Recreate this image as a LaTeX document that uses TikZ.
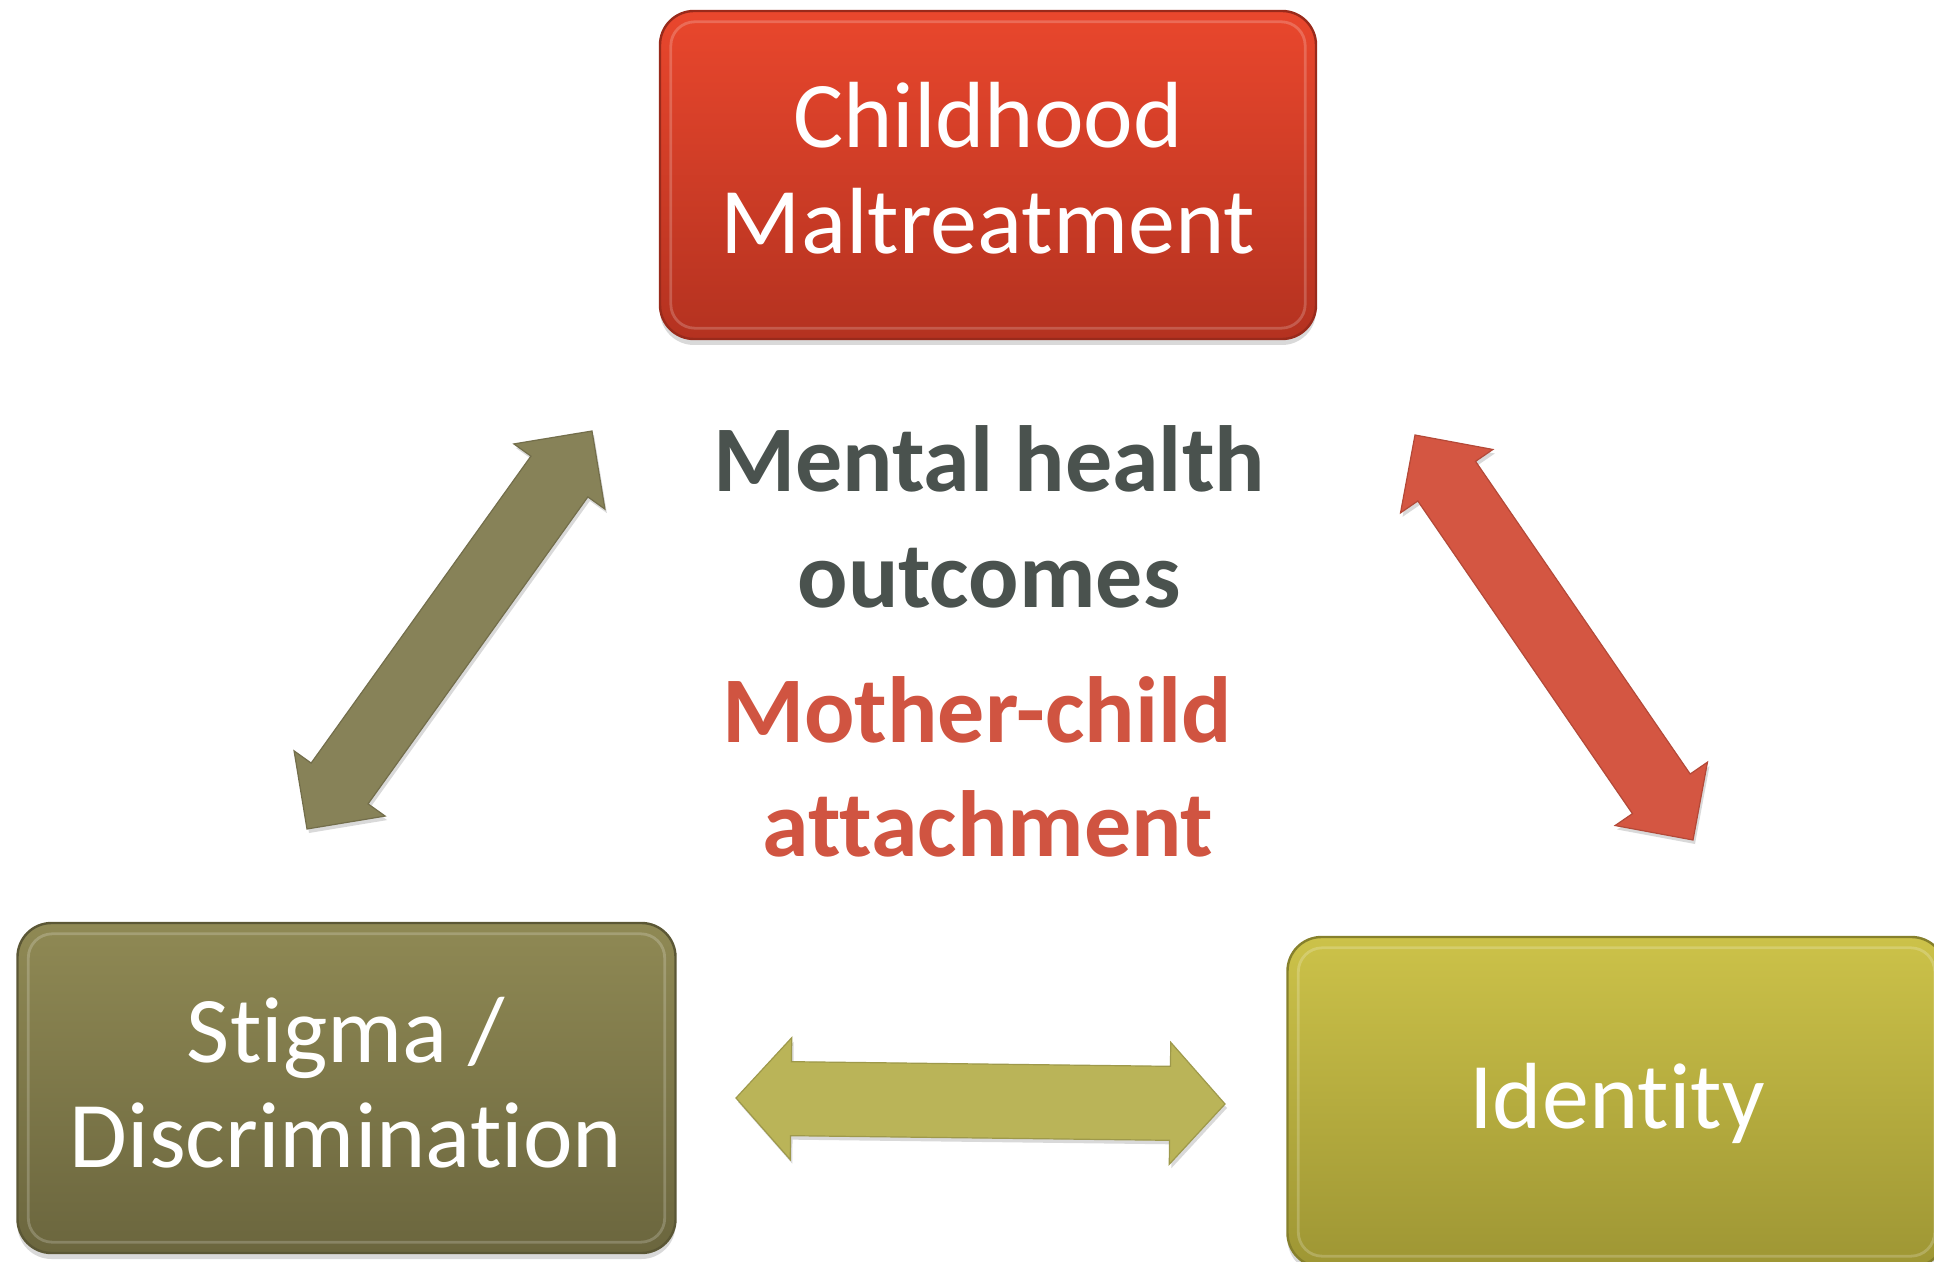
\documentclass[tikz,border=0pt]{standalone}
\usepackage{fontspec}
\setmainfont[Ligatures=NoCommon]{Carlito}
\usetikzlibrary{calc,shadows}

% box fills (top / bottom of the vertical gradient)
\definecolor{cmTop}{RGB}{233,71,45}
\definecolor{cmBot}{RGB}{180,50,32}
\definecolor{sdTop}{RGB}{143,137,84}
\definecolor{sdBot}{RGB}{107,102,62}
\definecolor{idTop}{RGB}{204,194,73}
\definecolor{idBot}{RGB}{158,150,52}
% arrows and centre text
\definecolor{oliveArrow}{RGB}{135,130,88}
\definecolor{redArrow}{RGB}{212,86,66}
\definecolor{yellowArrow}{RGB}{186,180,88}
\definecolor{mhGray}{RGB}{74,82,78}
\definecolor{mcRed}{RGB}{208,84,65}

% double-headed block arrow between two tip coordinates
% #1,#2 tips; #3 head length; #4 head half width; #5 shaft half width; #6 style
\newcommand\dblarrow[6]{%
  \filldraw[#6] (#1)
    -- ($(#1)!#3!(#2)!#4!90:(#2)$)
    -- ($(#1)!#3!(#2)!#5!90:(#2)$)
    -- ($(#2)!#3!(#1)!#5!-90:(#1)$)
    -- ($(#2)!#3!(#1)!#4!-90:(#1)$)
    -- (#2)
    -- ($(#2)!#3!(#1)!#4!90:(#1)$)
    -- ($(#2)!#3!(#1)!#5!90:(#1)$)
    -- ($(#1)!#3!(#2)!#5!-90:(#2)$)
    -- ($(#1)!#3!(#2)!#4!-90:(#2)$)
    -- cycle;}

\begin{document}
\begin{tikzpicture}[x=0.5pt,y=-0.5pt,
  card/.style={rounded corners=17pt, inner sep=0pt, line width=1.2pt,
    minimum width=329pt, minimum height=165pt,
    drop shadow={shadow xshift=0pt, shadow yshift=-3pt, opacity=0.15, fill=black}},
  rim/.style={rounded corners=12pt, line width=1.4pt, draw=white, draw opacity=0.2},
  boxtext/.style={anchor=base, text=white, inner sep=0pt,
    font=\fontsize{47}{56}\selectfont},
  midtext/.style={anchor=base, inner sep=0pt,
    font=\fontsize{47}{56}\selectfont\bfseries},
  arrowfill/.style={fill=#1, draw=#1!85!black, line width=0.6pt, line join=miter,
    drop shadow={shadow xshift=1pt, shadow yshift=-2pt, opacity=0.15, fill=black}},
]
\useasboundingbox (0,0) rectangle (1934,1262);
\clip (0,0) rectangle (1934,1262);
\fill[white] (0,0) rectangle (1934,1262);

% ---- boxes ----
\node[card, top color=cmTop, bottom color=cmBot, draw=cmBot!85!black,
      minimum width=328pt, minimum height=164pt] (cm) at (988,175) {};
\node[card, top color=sdTop, bottom color=sdBot, draw=sdBot!85!black] (sd) at (346.5,1088) {};
\node[card, top color=idTop, bottom color=idBot, draw=idBot!85!black] (id) at (1616.5,1102) {};

% glossy inner rims
\foreach \b in {cm,sd,id}
  \draw[rim] ([shift={(6pt,-6pt)}]\b.north west) rectangle ([shift={(-6pt,6pt)}]\b.south east);

% ---- box labels ----
\node[boxtext] (cmA) at (988,148) {Childhood};
\node[boxtext] (cmB) at (988,254) {Maltreatment};
\node[boxtext] (sdA) at (346,1062) {Stigma /};
\node[boxtext] (sdB) at (346,1167) {Discrimination};
\node[boxtext] (idA) at (1617,1128) {Identity};

% ---- centre labels ----
\node[midtext, text=mhGray] (mhA) at (989,492) {Mental health};
\node[midtext, text=mhGray] (mhB) at (989,608) {outcomes};
\node[midtext, text=mcRed] (mcA) at (977,742) {Mother-child};
\node[midtext, text=mcRed] (mcB) at (988,856) {attachment};

% ---- arrows ----
\coordinate (laTop) at (592,431);
\coordinate (laBot) at (307,829);
\coordinate (raTop) at (1415,435);
\coordinate (raBot) at (1693,840);
\coordinate (haL) at (736,1098);
\coordinate (haR) at (1225,1104);

\dblarrow{laTop}{laBot}{28pt}{28pt}{17.5pt}{arrowfill=oliveArrow}
\dblarrow{raTop}{raBot}{28pt}{28pt}{17.5pt}{arrowfill=redArrow}
\dblarrow{haL}{haR}{27.5pt}{30.5pt}{18.5pt}{arrowfill=yellowArrow}
\end{tikzpicture}
\end{document}
